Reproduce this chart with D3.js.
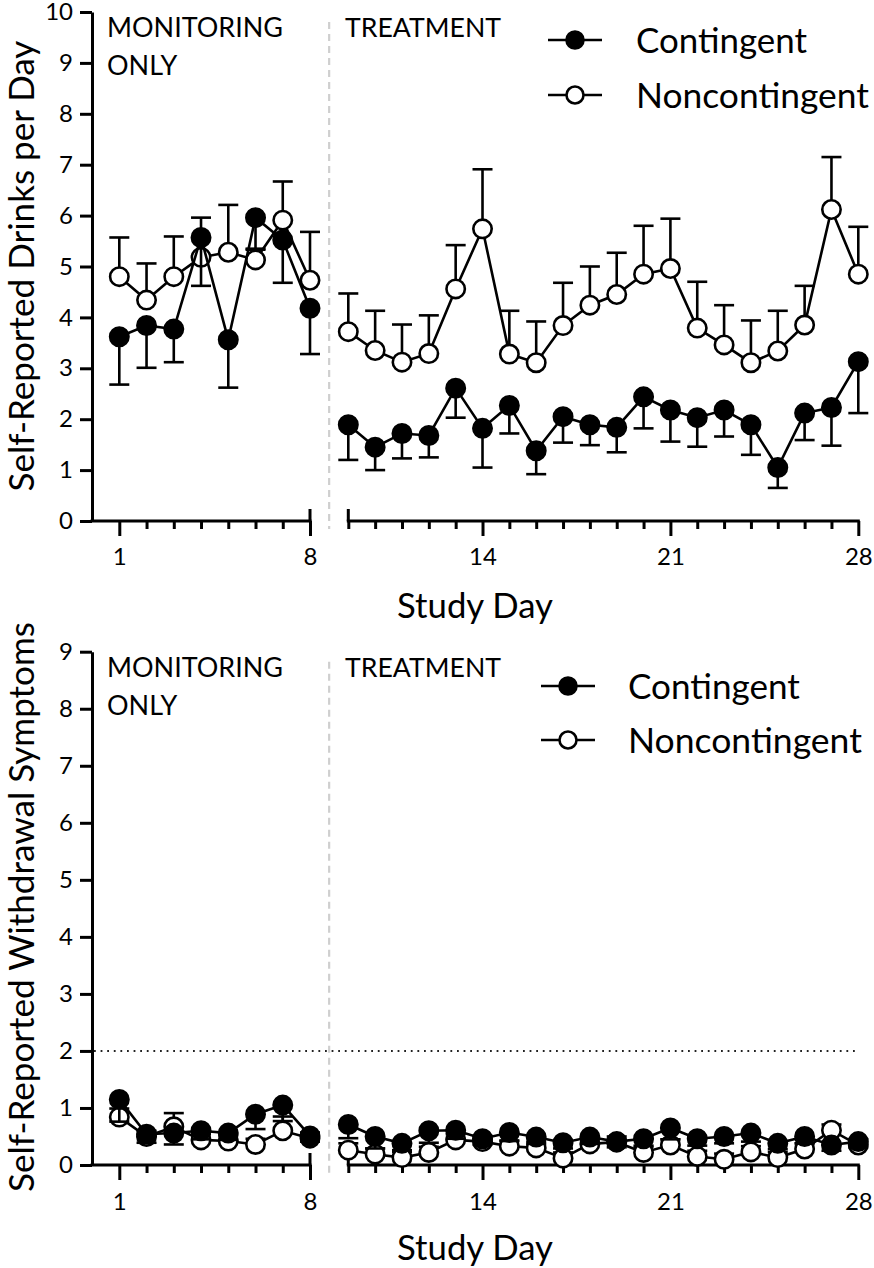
<!DOCTYPE html>
<html><head><meta charset="utf-8">
<script src="https://cdn.jsdelivr.net/npm/d3@7/dist/d3.min.js"></script>
<style>body{margin:0;background:#fff}svg{display:block}</style>
</head><body>
<svg id="chart" width="874" height="1268"></svg>
<script>
// ---------- data ----------
const days = d3.range(1, 29);
const monitoringDays = d3.range(1, 9);
const treatmentDays = d3.range(9, 29);
const labeledDays = [1, 8, 14, 21, 28];
const seriesNames = ["Contingent", "Noncontingent"];
const phaseLabels = [["MONITORING", "ONLY"], ["TREATMENT"]];
const drinksTicks = d3.range(0, 11);
const withdrawalTicks = d3.range(0, 10);
const withdrawalThreshold = 2;

const drinksContingent = [3.62,3.84,3.77,5.57,3.56,5.96,5.52,4.18,
  1.89,1.45,1.72,1.68,2.61,1.82,2.27,1.38,2.05,1.89,1.84,2.44,2.18,2.03,2.18,1.89,1.05,2.12,2.23,3.13];
const drinksContingentErr = [0.94,0.83,0.65,0.95,0.94,0.63,0.84,0.90,
  0.69,0.45,0.49,0.43,0.58,0.77,0.55,0.46,0.51,0.40,0.49,0.62,0.62,0.57,0.52,0.59,0.40,0.53,0.75,1.01];
const drinksNoncontingent = [4.80,4.34,4.80,5.18,5.28,5.13,5.91,4.73,
  3.72,3.35,3.12,3.29,4.56,5.74,3.28,3.11,3.84,4.24,4.45,4.85,4.96,3.79,3.46,3.11,3.34,3.85,6.12,4.85];
const drinksNoncontingentErr = [0.77,0.72,0.79,0.78,0.93,0.22,0.76,0.95,
  0.75,0.78,0.74,0.75,0.86,1.17,0.85,0.81,0.84,0.76,0.82,0.95,0.98,0.91,0.78,0.83,0.79,0.77,1.03,0.93];

const withdrawalContingent = [1.15,0.54,0.56,0.60,0.56,0.89,1.05,0.51,
  0.71,0.50,0.38,0.60,0.61,0.46,0.57,0.49,0.39,0.49,0.41,0.46,0.65,0.46,0.50,0.56,0.38,0.50,0.35,0.41];
const withdrawalContingentErr = [0.39,0.15,0.20,0.15,0.12,0.26,0.28,0.10,
  0.24,0.21,0.12,0.21,0.15,0.10,0.15,0.12,0.10,0.12,0.10,0.12,0.20,0.12,0.12,0.15,0.10,0.12,0.10,0.10];
const withdrawalNoncontingent = [0.84,0.50,0.67,0.44,0.42,0.36,0.60,0.47,
  0.26,0.19,0.13,0.22,0.44,0.41,0.33,0.30,0.12,0.37,0.40,0.22,0.35,0.15,0.10,0.23,0.13,0.28,0.61,0.35];
const withdrawalNoncontingentErr = [0.15,0.10,0.24,0.10,0.10,0.10,0.25,0.10,
  0.12,0.10,0.10,0.10,0.10,0.10,0.10,0.10,0.10,0.10,0.10,0.10,0.10,0.10,0.10,0.10,0.10,0.10,0.10,0.10];

// ---------- layout ----------
const FONT = "Lato, 'Open Sans', sans-serif";
const svg = d3.select("#chart");
const xLeft = d3.scaleLinear().domain([1, 8]).range([119.3, 310]);
const xRight = d3.scaleLinear().domain([9, 28]).range([348.3, 858.3]);
const xOf = d => d <= 8 ? xLeft(d) : xRight(d);
const axisX = 92;

function fit(sel, target) {
  sel.each(function () {
    const w = this.getComputedTextLength();
    const fs = parseFloat(d3.select(this).attr("font-size"));
    d3.select(this).attr("font-size", (fs * target / w).toFixed(2));
  });
}

function panel(cfg) {
  const g = svg.append("g");
  const y = d3.scaleLinear().domain([0, cfg.ticks[cfg.ticks.length - 1]]).range([cfg.bottom, cfg.top]);
  const y0 = y(0);

  // phase divider (dashed)
  const midX = (xLeft(8) + xRight(9)) / 2;
  g.append("line").attr("x1", midX).attr("x2", midX)
    .attr("y1", cfg.top + 10).attr("y2", y0 + 8)
    .attr("stroke", "#cfcfcf").attr("stroke-width", 2.2).attr("stroke-dasharray", "7,5");

  // threshold line
  if (cfg.threshold != null) {
    g.append("line").attr("x1", axisX + 2).attr("x2", xRight(28) - 3)
      .attr("y1", y(cfg.threshold)).attr("y2", y(cfg.threshold))
      .attr("stroke", "#222").attr("stroke-width", 2).attr("stroke-dasharray", "1.8,4.8");
  }

  // y axis
  const ya = g.append("g").attr("transform", `translate(${axisX},0)`)
    .call(d3.axisLeft(y).tickValues(cfg.ticks).tickSize(12).tickSizeOuter(0).tickPadding(7));
  ya.select(".domain").attr("stroke-width", 3);
  ya.selectAll(".tick line").attr("stroke-width", 3);
  ya.selectAll(".tick text").attr("font-family", FONT).attr("font-size", 24).attr("fill", "#000");

  // x axes (two segments with a break)
  const fmt = d => labeledDays.includes(d) ? d : "";
  const xa1 = g.append("g").attr("transform", `translate(0,${y0})`)
    .call(d3.axisBottom(xLeft).tickValues(monitoringDays).tickSize(8).tickSizeOuter(0).tickFormat(fmt).tickPadding(10));
  const xa2 = g.append("g").attr("transform", `translate(0,${y0})`)
    .call(d3.axisBottom(xRight).tickValues(treatmentDays).tickSize(8).tickSizeOuter(0).tickFormat(fmt).tickPadding(10));
  [xa1, xa2].forEach(a => {
    a.select(".domain").remove();
    a.selectAll(".tick line").attr("stroke-width", 3)
      .attr("y2", d => labeledDays.includes(d) ? 15 : 8);
    a.selectAll(".tick text").attr("font-family", FONT).attr("font-size", 24).attr("fill", "#000")
      .attr("y", cfg.tickLabelDy);
  });
  g.append("line").attr("x1", axisX - 1.5).attr("x2", xLeft(8) + 1.5).attr("y1", y0).attr("y2", y0)
    .attr("stroke", "#000").attr("stroke-width", 3);
  g.append("line").attr("x1", xRight(9) - 1.5).attr("x2", xRight(28) + 1.5).attr("y1", y0).attr("y2", y0)
    .attr("stroke", "#000").attr("stroke-width", 3);
  [xLeft(8), xRight(9)].forEach(bx => {
    g.append("line").attr("x1", bx).attr("x2", bx).attr("y1", y0 - 12).attr("y2", y0)
      .attr("stroke", "#000").attr("stroke-width", 3);
  });

  // axis titles
  const yt = g.append("text").attr("class", "ytitle").attr("font-family", FONT).attr("font-size", 34)
    .attr("text-anchor", "middle").attr("dominant-baseline", "central")
    .attr("transform", `translate(20,${cfg.titleY}) rotate(-90)`).text(cfg.yTitle);
  if (cfg.yTitleLen) fit(yt, cfg.yTitleLen);
  const xt = g.append("text").attr("font-family", FONT).attr("font-size", 34)
    .attr("text-anchor", "middle").attr("x", 475).attr("y", y0 + cfg.xTitleDy).text("Study Day");
  fit(xt, 156);

  // phase labels
  let monSize = null;
  phaseLabels[0].forEach((t, i) => {
    const tx = g.append("text").attr("font-family", FONT).attr("font-size", 28)
      .attr("x", 107).attr("y", cfg.top + 25 + i * 38).text(t);
    if (i === 0) { fit(tx, 176); monSize = tx.attr("font-size"); }
    else tx.attr("font-size", monSize);
  });
  const tr = g.append("text").attr("font-family", FONT).attr("font-size", 28)
    .attr("x", 345).attr("y", cfg.top + 25).text(phaseLabels[1][0]);
  fit(tr, 156);

  // series
  const series = [
    { name: seriesNames[1], vals: cfg.nc, err: cfg.ncErr, dir: 1, fill: "#fff" },
    { name: seriesNames[0], vals: cfg.c, err: cfg.cErr, dir: -1, fill: "#000" }
  ];
  const line = d3.line().x(d => xOf(d.day)).y(d => y(d.v));
  series.forEach(s => {
    const pts = days.map((d, i) => ({ day: d, v: s.vals[i], e: s.err[i] }));
    const sg = g.append("g");
    [pts.filter(p => p.day <= 8), pts.filter(p => p.day >= 9)].forEach(seg => {
      sg.append("path").datum(seg).attr("d", line).attr("fill", "none")
        .attr("stroke", "#000").attr("stroke-width", 2.6);
    });
    const eb = sg.append("g").selectAll("g").data(pts).join("g");
    eb.append("line").attr("x1", p => xOf(p.day)).attr("x2", p => xOf(p.day))
      .attr("y1", p => y(p.v)).attr("y2", p => y(p.v + s.dir * p.e))
      .attr("stroke", "#000").attr("stroke-width", 2.6);
    eb.append("line").attr("x1", p => xOf(p.day) - 10).attr("x2", p => xOf(p.day) + 10)
      .attr("y1", p => y(p.v + s.dir * p.e)).attr("y2", p => y(p.v + s.dir * p.e))
      .attr("stroke", "#000").attr("stroke-width", 2.6);
    sg.append("g").selectAll("circle").data(pts).join("circle")
      .attr("cx", p => xOf(p.day)).attr("cy", p => y(p.v)).attr("r", 9.2)
      .attr("fill", s.fill).attr("stroke", "#000").attr("stroke-width", 2.6);
  });

  // legend
  const lg = g.append("g");
  [seriesNames[0], seriesNames[1]].forEach((nm, i) => {
    const ly = cfg.legY + i * cfg.legGap;
    lg.append("line").attr("x1", cfg.legX - 27).attr("x2", cfg.legX + 27).attr("y1", ly).attr("y2", ly)
      .attr("stroke", "#000").attr("stroke-width", 2.6);
    lg.append("circle").attr("cx", cfg.legX).attr("cy", ly).attr("r", 8.5)
      .attr("fill", i === 0 ? "#000" : "#fff").attr("stroke", "#000").attr("stroke-width", 2.6);
    const t = lg.append("text").attr("font-family", FONT).attr("font-size", 36)
      .attr("x", cfg.legX + cfg.legTextDx).attr("y", ly + 13).text(nm);
    fit(t, i === 0 ? cfg.legW[0] : cfg.legW[1]);
  });
  return yt;
}

const topTitle = panel({
  top: 12, bottom: 521, ticks: drinksTicks, threshold: null,
  yTitle: "Self-Reported Drinks per Day", titleY: 266, yTitleLen: null,
  tickLabelDy: 27, xTitleDy: 97,
  c: drinksContingent, cErr: drinksContingentErr, nc: drinksNoncontingent, ncErr: drinksNoncontingentErr,
  legX: 575, legY: 40, legGap: 55, legTextDx: 61, legW: [171, 233]
});
const bottomTitle = panel({
  top: 651.7, bottom: 1165, ticks: withdrawalTicks, threshold: withdrawalThreshold,
  yTitle: "Self-Reported Withdrawal Symptoms", titleY: 907, yTitleLen: 570,
  tickLabelDy: 28, xTitleDy: 95,
  c: withdrawalContingent, cErr: withdrawalContingentErr, nc: withdrawalNoncontingent, ncErr: withdrawalNoncontingentErr,
  legX: 568, legY: 686, legGap: 54, legTextDx: 60, legW: [172, 234]
});
topTitle.attr("font-size", bottomTitle.attr("font-size"));
</script>
</body></html>
